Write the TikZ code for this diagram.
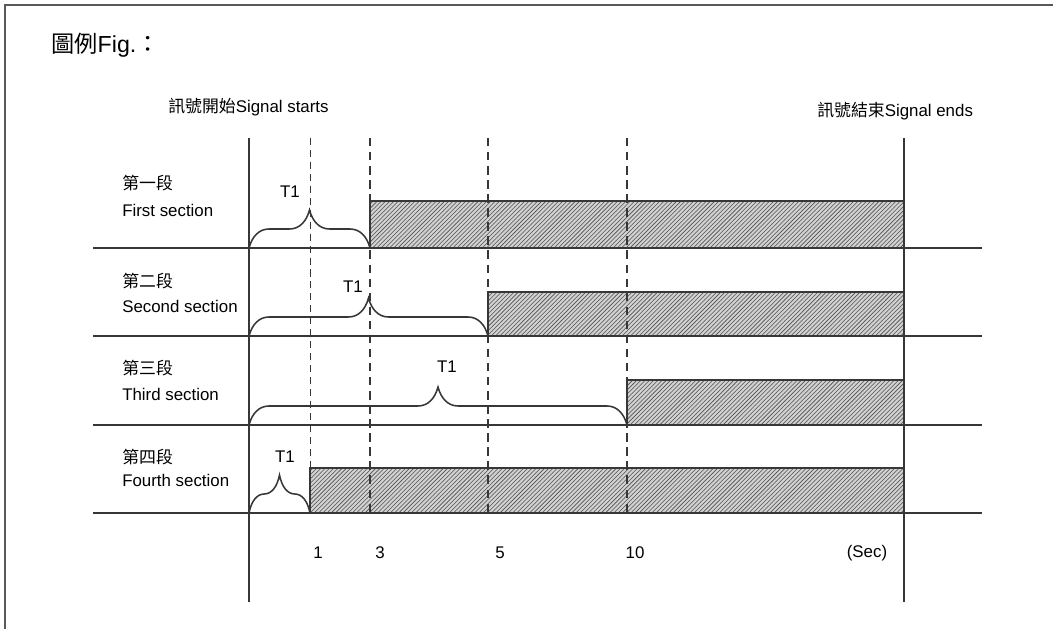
\documentclass[tikz,border=0pt]{standalone}
\usepackage{fontspec}
\setmainfont{Liberation Sans}
\newfontfamily\cjk{Noto Sans CJK TC}
\usetikzlibrary{patterns, decorations.pathreplacing}
\definecolor{cLine}{RGB}{55,55,55}
\definecolor{cHatch}{RGB}{80,80,80}

\tikzset{
  rowline/.style={cLine, line width=1.5pt},
  edgeline/.style={cLine, line width=1.5pt},
  markline/.style={cLine, line width=1.3pt, dash pattern=on 6pt off 4pt},
  thinmark/.style={cLine, line width=0.7pt, dash pattern=on 5pt off 3.5pt},
  onbar/.style={draw=cLine, line width=1.2pt, pattern=north east lines, pattern color=cHatch,
                preaction={fill=gray!35}},
  tbrace/.style={decorate, decoration={brace, amplitude=0.5cm, transform={yscale=1.9}},
                 cLine, line width=1.1pt},
  lbl/.style={anchor=west, inner sep=0pt}
}

\begin{document}
\begin{tikzpicture}[x=0.025cm, y=-0.025cm, font=\fontsize{12}{14}\selectfont]
\useasboundingbox (0,0) rectangle (1053,629);

% frame (cut off at right and bottom)
\draw[gray!70!black, line width=1.1pt] (5,629) -- (5,5) -- (1053,5);

% --- headings ---
\node[lbl, font=\fontsize{16.5}{19}\selectfont] (title) at (51,45) {{\cjk 圖例}Fig.{\cjk ：}};
\node[lbl] (start) at (168,107) {{\cjk 訊號開始}Signal starts};
\node[lbl] (stop) at (817,111) {{\cjk 訊號結束}Signal ends};

% --- section names ---
\node[lbl] (sec1zh) at (122,183) {\cjk 第一段};
\node[lbl] (sec1en) at (122,210) {First section};
\node[lbl] (sec2zh) at (122,281) {\cjk 第二段};
\node[lbl] (sec2en) at (122,306) {Second section};
\node[lbl] (sec3zh) at (122,368) {\cjk 第三段};
\node[lbl] (sec3en) at (122,394) {Third section};
\node[lbl] (sec4zh) at (122,457) {\cjk 第四段};
\node[lbl] (sec4en) at (122,480) {Fourth section};

% --- output bars ---
\foreach \xs/\yt/\yb in {370/201/248, 488/292/336, 627/380/425, 310/468/513}
  \draw[onbar] (\xs,\yb) rectangle (904,\yt);

% --- time marks ---
\draw[thinmark] (310,138) -- (310,513);
\foreach \x in {370,488,627}
  \draw[markline] (\x,138) -- (\x,513);

% --- rows ---
\foreach \y in {248,336,425,513}
  \draw[rowline] (93,\y) -- (982,\y);

% start / end of signal
\draw[edgeline] (249,138) -- (249,602);
\draw[edgeline] (904,138) -- (904,602);

% --- T1 braces ---
\draw[tbrace] (249,248) -- (370,248);
\draw[tbrace] (249,336) -- (488,336);
\draw[tbrace] (249,425) -- (627,425);
\draw[tbrace] (249,513) -- (310,513);
\node (t1a) at (290,192) {T1};
\node (t1b) at (353,287) {T1};
\node (t1c) at (447,367) {T1};
\node (t1d) at (285,457) {T1};

% --- time axis (sec) ---
\node (tick1) at (318,553) {1};
\node (tick3) at (380,553) {3};
\node (tick5) at (500,553) {5};
\node (tick10) at (635,553) {10};
\node (unit) at (867,553) {(Sec)};

\end{tikzpicture}
\end{document}
